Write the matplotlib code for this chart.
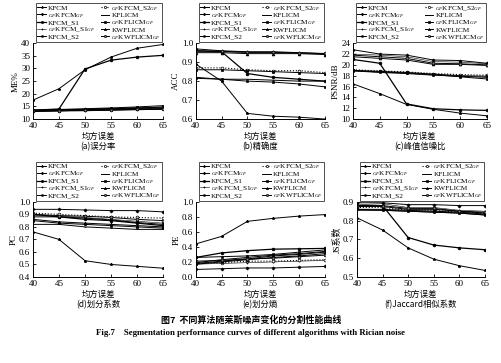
import matplotlib
matplotlib.use('Agg')
import matplotlib.pyplot as plt
import numpy as np

plt.rcParams['font.family'] = ['Liberation Serif', 'Noto Sans CJK SC', 'DejaVu Sans']
plt.rcParams['mathtext.fontset'] = 'custom'
plt.rcParams['mathtext.rm'] = 'Liberation Serif'
plt.rcParams['mathtext.it'] = 'Liberation Serif:italic'

x = [40, 45, 50, 55, 60, 65]

labels = ['KFCM', r'$_{GF}$KFCM$_{GF}$', 'KFCM_S1', r'$_{GF}$KFCM_S1$_{GF}$', 'KFCM_S2',
          r'$_{GF}$KFCM_S2$_{GF}$', 'KFLICM', r'$_{GF}$KFLICM$_{GF}$', 'KWFLICM',
          r'$_{GF}$KWFLICM$_{GF}$']

# (a) ME%
me_kfcm = [17.5, 22.0, 29.5, 34.5, 38.0, 39.5]
me_gfkfcm = [13.3, 13.5, 13.8, 14.0, 14.2, 14.4]
me_s1 = [13.5, 14.0, 29.8, 33.3, 34.5, 35.2]
me_gfs1 = [13.4, 13.6, 13.9, 14.2, 14.5, 14.8]
me_s2 = [13.6, 13.8, 14.1, 14.4, 14.8, 15.3]
me_gfs2 = [13.2, 13.4, 13.6, 13.8, 14.0, 14.2]
me_kflicm = [13.0, 13.2, 13.3, 13.5, 13.7, 13.9]
me_gfkflicm = [13.1, 13.3, 13.5, 13.7, 13.9, 14.1]
me_kwflicm = [13.4, 13.6, 13.8, 14.1, 14.4, 14.7]
me_gfkwflicm = [13.2, 13.3, 13.5, 13.6, 13.8, 13.9]

# (b) ACC
acc_kfcm = [0.89, 0.80, 0.63, 0.615, 0.61, 0.60]
acc_gfkfcm = [0.97, 0.96, 0.955, 0.955, 0.95, 0.945]
acc_s1 = [0.96, 0.955, 0.84, 0.82, 0.81, 0.80]
acc_gfs1 = [0.955, 0.955, 0.95, 0.95, 0.95, 0.945]
acc_s2 = [0.815, 0.81, 0.80, 0.795, 0.785, 0.77]
acc_gfs2 = [0.87, 0.87, 0.86, 0.855, 0.855, 0.845]
acc_kflicm = [0.82, 0.81, 0.81, 0.805, 0.80, 0.80]
acc_gfkflicm = [0.86, 0.86, 0.855, 0.85, 0.845, 0.84]
acc_kwflicm = [0.95, 0.95, 0.945, 0.945, 0.945, 0.94]
acc_gfkwflicm = [0.96, 0.958, 0.952, 0.952, 0.948, 0.946]

# (c) PSNR/dB
ps_kfcm = [16.5, 14.7, 12.7, 11.8, 11.1, 10.6]
ps_gfkfcm = [22.8, 22.0, 21.8, 20.9, 20.8, 20.3]
ps_s1 = [21.0, 20.3, 12.8, 11.9, 11.7, 11.6]
ps_gfs1 = [22.0, 21.8, 21.5, 20.6, 20.5, 20.2]
ps_s2 = [18.9, 18.7, 18.5, 18.2, 17.8, 17.4]
ps_gfs2 = [19.1, 18.9, 18.7, 18.4, 18.2, 18.1]
ps_kflicm = [18.9, 18.6, 18.4, 18.1, 17.9, 17.7]
ps_gfkflicm = [19.0, 18.8, 18.6, 18.3, 18.0, 17.9]
ps_kwflicm = [21.5, 21.2, 20.9, 20.1, 20.1, 19.9]
ps_gfkwflicm = [21.8, 21.5, 21.2, 20.3, 20.2, 20.0]

# (d) PC
pc_kfcm = [0.76, 0.70, 0.53, 0.50, 0.485, 0.47]
pc_gfkfcm = [0.94, 0.94, 0.935, 0.93, 0.93, 0.92]
pc_s1 = [0.90, 0.88, 0.86, 0.85, 0.83, 0.81]
pc_gfs1 = [0.89, 0.885, 0.875, 0.86, 0.845, 0.83]
pc_s2 = [0.85, 0.83, 0.82, 0.81, 0.80, 0.79]
pc_gfs2 = [0.91, 0.90, 0.89, 0.88, 0.875, 0.87]
pc_kflicm = [0.82, 0.82, 0.80, 0.79, 0.78, 0.78]
pc_gfkflicm = [0.88, 0.88, 0.87, 0.855, 0.835, 0.82]
pc_kwflicm = [0.86, 0.84, 0.83, 0.82, 0.81, 0.80]
pc_gfkwflicm = [0.90, 0.89, 0.885, 0.875, 0.86, 0.85]

# (e) PE
pe_kfcm = [0.44, 0.54, 0.74, 0.78, 0.81, 0.83]
pe_gfkfcm = [0.10, 0.11, 0.12, 0.12, 0.13, 0.14]
pe_s1 = [0.26, 0.32, 0.35, 0.37, 0.375, 0.38]
pe_gfs1 = [0.17, 0.18, 0.19, 0.20, 0.21, 0.22]
pe_s2 = [0.26, 0.27, 0.28, 0.30, 0.33, 0.36]
pe_gfs2 = [0.18, 0.19, 0.21, 0.21, 0.22, 0.23]
pe_kflicm = [0.19, 0.23, 0.26, 0.29, 0.31, 0.34]
pe_gfkflicm = [0.17, 0.20, 0.23, 0.26, 0.28, 0.31]
pe_kwflicm = [0.18, 0.21, 0.24, 0.28, 0.30, 0.33]
pe_gfkwflicm = [0.21, 0.22, 0.24, 0.25, 0.27, 0.29]

# (f) JS
js_kfcm = [0.815, 0.75, 0.655, 0.595, 0.56, 0.535]
js_gfkfcm = [0.895, 0.895, 0.885, 0.885, 0.88, 0.88]
js_s1 = [0.88, 0.88, 0.71, 0.67, 0.655, 0.645]
js_gfs1 = [0.885, 0.89, 0.87, 0.87, 0.855, 0.85]
js_s2 = [0.86, 0.855, 0.85, 0.845, 0.84, 0.83]
js_gfs2 = [0.87, 0.87, 0.855, 0.855, 0.845, 0.84]
js_kflicm = [0.855, 0.855, 0.85, 0.845, 0.84, 0.83]
js_gfkflicm = [0.86, 0.86, 0.855, 0.85, 0.845, 0.835]
js_kwflicm = [0.875, 0.875, 0.86, 0.86, 0.85, 0.84]
js_gfkwflicm = [0.88, 0.88, 0.865, 0.865, 0.85, 0.845]

styles = [
    dict(marker='*', ls='-', lw=0.7),
    dict(marker='D', ls='-', lw=0.7, ms=1.6),
    dict(marker='o', ls='-', lw=0.9),
    dict(marker='+', ls='-', lw=0.4),
    dict(marker='s', ls='-', lw=0.7, ms=1.4),
    dict(marker='o', ls=':', lw=0.8, mfc='white'),
    dict(marker='_', ls='-', lw=0.7),
    dict(marker='s', ls='-', lw=0.7),
    dict(marker='^', ls='-', lw=0.7),
    dict(marker='o', ls='-', lw=0.7, mfc='gray'),
]

panels = [
    ([me_kfcm, me_gfkfcm, me_s1, me_gfs1, me_s2, me_gfs2, me_kflicm, me_gfkflicm, me_kwflicm, me_gfkwflicm],
     'ME%', (10, 40), np.arange(10, 41, 5), '(a)误分率', [0.0657, 0.672, 0.259, 0.209], '%d'),
    ([acc_kfcm, acc_gfkfcm, acc_s1, acc_gfs1, acc_s2, acc_gfs2, acc_kflicm, acc_gfkflicm, acc_kwflicm, acc_gfkwflicm],
     'ACC', (0.6, 1.0), np.arange(0.6, 1.01, 0.1), '(b)精确度', [0.390, 0.672, 0.257, 0.209], '%.1f'),
    ([ps_kfcm, ps_gfkfcm, ps_s1, ps_gfs1, ps_s2, ps_gfs2, ps_kflicm, ps_gfkflicm, ps_kwflicm, ps_gfkwflicm],
     'PSNR/dB', (10, 24), np.arange(10, 25, 2), '(c)峰值信噪比', [0.703, 0.672, 0.267, 0.209], '%d'),
    ([pc_kfcm, pc_gfkfcm, pc_s1, pc_gfs1, pc_s2, pc_gfs2, pc_kflicm, pc_gfkflicm, pc_kwflicm, pc_gfkwflicm],
     'PC', (0.4, 1.0), np.arange(0.4, 1.01, 0.1), '(d)划分系数', [0.0657, 0.237, 0.259, 0.207], '%.1f'),
    ([pe_kfcm, pe_gfkfcm, pe_s1, pe_gfs1, pe_s2, pe_gfs2, pe_kflicm, pe_gfkflicm, pe_kwflicm, pe_gfkwflicm],
     'PE', (0.0, 1.0), np.arange(0.0, 1.01, 0.2), '(e)划分熵', [0.390, 0.237, 0.257, 0.207], '%.1f'),
    ([js_kfcm, js_gfkfcm, js_s1, js_gfs1, js_s2, js_gfs2, js_kflicm, js_gfkflicm, js_kwflicm, js_gfkwflicm],
     'JS系数', (0.5, 0.9), np.arange(0.5, 0.91, 0.1), '(f)Jaccard相似系数', [0.711, 0.237, 0.255, 0.207], '%.1f'),
]

fig = plt.figure(figsize=(5.02, 3.63), dpi=100)

for series, ylab, ylim, yticks, title, pos, fmt in panels:
    ax = fig.add_axes(pos)
    for vals, lab, st in zip(series, labels, styles):
        st = dict(st)
        st.setdefault('ms', 2.0)
        ax.plot(x, vals, color='black', label=lab, mew=0.5, **st)
    ax.set_xlim(40, 65)
    ax.set_ylim(*ylim)
    ax.set_xticks(x)
    ax.set_yticks(yticks)
    ax.set_yticklabels([fmt % v for v in yticks])
    ax.tick_params(direction='in', labelsize=6.5, length=2, width=0.6, pad=2)
    ax.spines['top'].set_visible(False)
    ax.spines['right'].set_visible(False)
    for s in ['left', 'bottom']:
        ax.spines[s].set_linewidth(0.7)
    ax.set_ylabel(ylab, fontsize=6.5, labelpad=1)
    ax.set_xlabel('均方误差\n' + title, fontsize=6, labelpad=1.5, linespacing=1.2,
                  family=['Noto Sans CJK SC', 'DejaVu Sans'])
    leg = ax.legend(ncol=2, loc='lower left', bbox_to_anchor=(0.02, 1.0, 0.98, 0.2), mode='expand',
                    fontsize=5.2, frameon=True, fancybox=False, edgecolor='black',
                    labelspacing=0.0, handlelength=1.2, handleheight=0.5, handletextpad=0.3,
                    columnspacing=0.4, borderpad=0.12, borderaxespad=0.1, markerscale=0.8)
    leg.get_frame().set_linewidth(0.6)

fig.text(0.5, 0.112, '图7  不同算法随莱斯噪声变化的分割性能曲线', ha='center', fontsize=6.5,
         fontweight='bold', family=['Noto Sans CJK SC', 'DejaVu Sans'])
fig.text(0.5, 0.076, 'Fig.7    Segmentation performance curves of different algorithms with Rician noise',
         ha='center', fontsize=6.3, fontweight='bold', family='Liberation Serif')

fig.savefig('out.png', dpi=100)
